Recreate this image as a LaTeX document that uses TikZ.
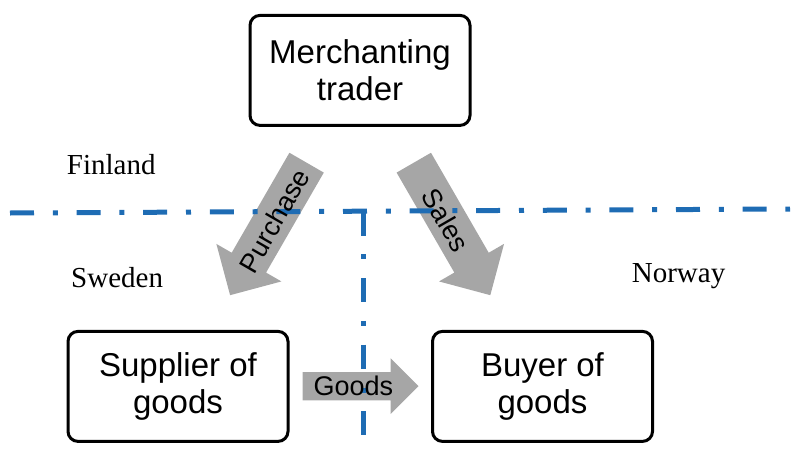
\documentclass[tikz,border=0pt]{standalone}
\usepackage{fontspec}
\setmainfont{Liberation Serif}
\newfontfamily\arialfont{Liberation Sans}
\usetikzlibrary{shapes.arrows}
\definecolor{borderblue}{RGB}{30,108,180}
\definecolor{arrowgray}{RGB}{166,166,166}
\tikzset{
  party/.style={draw, line width=3pt, rounded corners=10pt, minimum width=220pt,
    minimum height=110pt, align=center, font=\arialfont\fontsize{33}{36.5}\selectfont},
  flow/.style={single arrow, fill=arrowgray, inner xsep=0pt, anchor=tail},
  flowtext/.style={font=\arialfont\fontsize{27}{30}\selectfont},
  country/.style={anchor=base west, inner sep=0pt, font=\fontsize{29}{32}\selectfont},
  border/.style={borderblue, line width=5pt, dash pattern=on 24pt off 18.8pt on 5pt off 18.8pt}
}
\begin{document}
\begin{tikzpicture}[x=1pt, y=-1pt]
  \useasboundingbox (0,0) rectangle (796,450);
  \node [party] (trader) at (360,70.4) {Merchanting\\trader};
  \node [party] (supplier) at (178,386.4) {Supplier of\\goods};
  \node [party] (buyer) at (542.5,386.4) {Buyer of\\goods};
  \node [flow, inner ysep=19.65pt, single arrow head extend=17.7pt, minimum height=153pt,
    rotate=240] (purchase) at (306.7,162.5) {};
  \node [flow, inner ysep=19.65pt, single arrow head extend=17.7pt, minimum height=153pt,
    rotate=300] (sales) at (413.7,162.5) {};
  \node [flow, inner ysep=13.85pt, single arrow head extend=13.8pt, minimum height=116pt]
    (goods) at (302.3,386.2) {};
  \coordinate (westend) at (10,213);
  \coordinate (eastend) at (790,209);
  \coordinate (corner) at (363,211.5);
  \coordinate (southend) at (363,437);
  \draw [border] (westend) -- (eastend);
  \draw [border] (corner) -- (southend);
  \node [flowtext, rotate=60] (purchaselabel) at (274.2,220.8) {Purchase};
  \node [flowtext, rotate=-60] (saleslabel) at (445.8,220) {Sales};
  \node [flowtext, anchor=base] (goodslabel) at (353.4,395) {Goods};
  \node [country] (finland) at (66.7,174.3) {Finland};
  \node [country] (sweden) at (71,287.7) {Sweden};
  \node [country] (norway) at (631.7,282.7) {Norway};
\end{tikzpicture}
\end{document}
